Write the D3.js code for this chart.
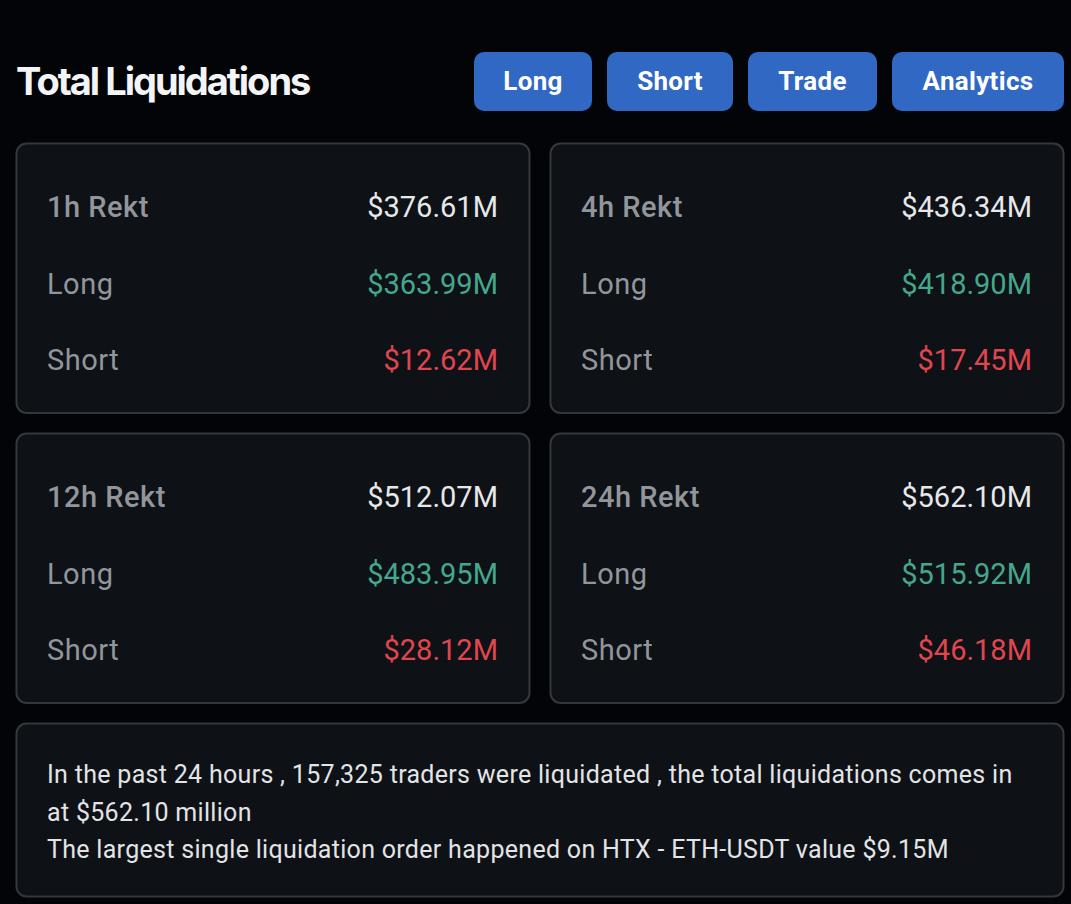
<!DOCTYPE html>
<html lang="en">
<head>
<title>Total Liquidations</title>
<script src="https://d3js.org/d3.v7.min.js"></script>
<style>
    html, body { margin: 0; padding: 0; background: #030408; overflow: hidden; }
    svg { display: block; }
    text { font-family: Roboto, sans-serif; }
</style>
</head>
<body>
<svg id="target" width="1071" height="904"></svg>
<script>
const title = "Total Liquidations";
const buttons = ["Long", "Short", "Trade", "Analytics"];
const buttonLeft = [474, 607, 748, 892];
const buttonRight = [592, 733, 877, 1064];
const periods = ["1h Rekt", "4h Rekt", "12h Rekt", "24h Rekt"];
const totals = ["$376.61M", "$436.34M", "$512.07M", "$562.10M"];
const longs = ["$363.99M", "$418.90M", "$483.95M", "$515.92M"];
const shorts = ["$12.62M", "$17.45M", "$28.12M", "$46.18M"];
const summary = [
    "In the past 24 hours , 157,325 traders were liquidated , the total liquidations comes in",
    "at $562.10 million",
    "The largest single liquidation order happened on HTX - ETH-USDT value $9.15M"
];

const svg = d3.select("#target");

svg.append("text")
    .attr("x", 16).attr("y", 95)
    .style("font-family", "Inter, sans-serif")
    .attr("font-size", 38).attr("font-weight", 700)
    .attr("letter-spacing", -2)
    .attr("fill", "#f3f4f6")
    .text(title);

// header buttons
const btn = svg.selectAll(".btn").data(buttons).join("g").attr("class", "btn");
btn.append("rect")
    .attr("x", (d, i) => buttonLeft[i])
    .attr("y", 52)
    .attr("width", (d, i) => buttonRight[i] - buttonLeft[i])
    .attr("height", 59)
    .attr("rx", 10)
    .attr("fill", "#3068c4");
btn.append("text")
    .attr("x", (d, i) => (buttonLeft[i] + buttonRight[i]) / 2)
    .attr("y", 90)
    .attr("text-anchor", "middle")
    .attr("font-size", 26).attr("font-weight", 700)
    .attr("letter-spacing", 0.3)
    .attr("fill", "#fff")
    .text(d => d);

// 2 x 2 cards
const col = d3.scaleBand().domain([0, 1]).range([16, 1064]).paddingInner(0.0375);
const row = d3.scaleBand().domain([0, 1]).range([143, 703.5]).paddingInner(0.0672);

const cards = svg.selectAll(".card").data(periods).join("g")
    .attr("class", "card")
    .attr("transform", (d, i) => `translate(${col(i % 2)},${row(Math.floor(i / 2))})`);

cards.append("rect")
    .attr("x", 0.5).attr("y", 0.5)
    .attr("width", col.bandwidth() - 1)
    .attr("height", row.bandwidth() - 1)
    .attr("rx", 10)
    .attr("fill", "#0e1116")
    .attr("stroke", "#34373c")
    .attr("stroke-width", 2);

const rowY = [74, 151, 227];
function cardRow(y, left, leftWeight, vals, color) {
    cards.append("text")
        .attr("x", 31).attr("y", y)
        .attr("font-size", 29).attr("font-weight", leftWeight)
        .attr("letter-spacing", 0.5)
        .attr("fill", "#92969b")
        .text(left);
    cards.append("text")
        .attr("x", col.bandwidth() - 32).attr("y", y)
        .attr("text-anchor", "end")
        .attr("font-size", 29)
        .attr("fill", color)
        .text((d, i) => vals[i]);
}
cardRow(rowY[0], d => d, 500, totals, "#e6e8ea");
cardRow(rowY[1], "Long", 400, longs, "#44a88c");
cardRow(rowY[2], "Short", 400, shorts, "#e0464e");

// summary box
svg.append("rect")
    .attr("x", 16.5).attr("y", 723.5)
    .attr("width", 1047).attr("height", 173)
    .attr("rx", 10)
    .attr("fill", "#0e1116")
    .attr("stroke", "#34373c")
    .attr("stroke-width", 2);

svg.selectAll(".summary").data(summary).join("text")
    .attr("class", "summary")
    .attr("x", 47)
    .attr("y", (d, i) => 783 + i * 37.5)
    .attr("font-size", 25)
    .attr("letter-spacing", 0.3)
    .attr("fill", "#e2e4e6")
    .text(d => d);
</script>
</body>
</html>
